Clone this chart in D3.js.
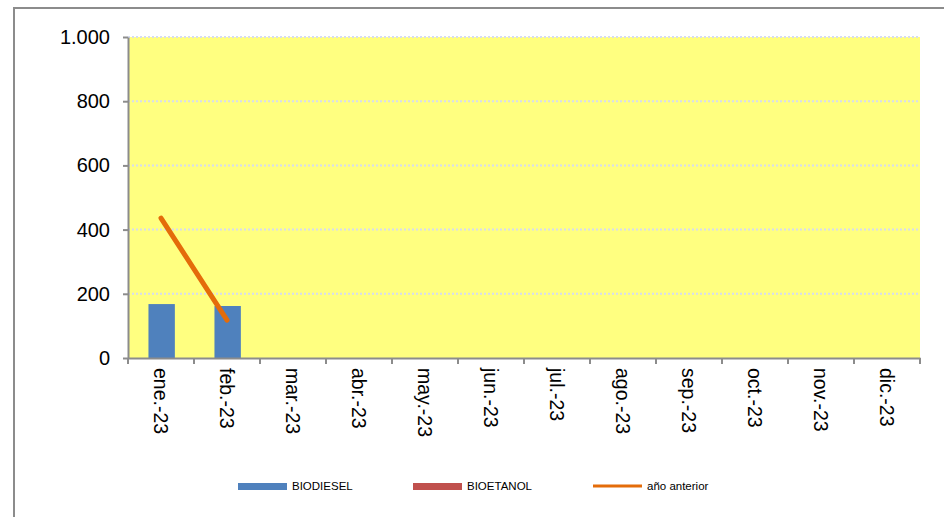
<!DOCTYPE html>
<html lang="es">
<head>
<meta charset="utf-8">
<script src="https://d3js.org/d3.v7.min.js"></script>
<style>
  body { margin: 0; background: #fff; font-family: "Liberation Sans", Arial, sans-serif; }
  .yaxis text { font-size: 20px; fill: #000; }
  .xaxis text { font-size: 19.5px; fill: #000; }
  .axis path, .axis line { stroke: #8c8c8c; stroke-width: 2; }
  .legend text { font-size: 11.5px; fill: #000; }
</style>
</head>
<body>
<div id="chart"></div>
<script>
// datos
var months = ["ene.-23","feb.-23","mar.-23","abr.-23","may.-23","jun.-23","jul.-23","ago.-23","sep.-23","oct.-23","nov.-23","dic.-23"];
var biodiesel = [168, 162, null, null, null, null, null, null, null, null, null, null];
var bioetanol = [0, 0, null, null, null, null, null, null, null, null, null, null];
var anioAnterior = [436, 118];
var yTicks = [0, 200, 400, 600, 800, 1000];

var width = 944, height = 517;
var margin = {left: 128, right: 24, top: 37, bottom: 159};

var svg = d3.select("#chart").append("svg")
  .attr("width", width)
  .attr("height", height);

// outer border
svg.append("rect")
  .attr("x", 14).attr("y", 8)
  .attr("width", 940).attr("height", 520)
  .attr("fill", "none")
  .attr("stroke", "#8c8c8c")
  .attr("stroke-width", 2);

var x = d3.scaleBand()
  .domain(months)
  .range([margin.left, width - margin.right]);

var y = d3.scaleLinear()
  .domain([0, 1000])
  .range([height - margin.bottom, margin.top]);

var fmt = function(d) { return d3.format(",")(d).replace(/,/g, "."); };

// plot background
svg.append("rect")
  .attr("x", x.range()[0]).attr("y", y(1000))
  .attr("width", x.range()[1] - x.range()[0])
  .attr("height", y(0) - y(1000))
  .attr("fill", "#ffff80");

// gridlines
svg.append("g").selectAll("line")
  .data(yTicks.filter(d => d > 0))
  .enter().append("line")
  .attr("x1", x.range()[0]).attr("x2", x.range()[1])
  .attr("y1", d => y(d)).attr("y2", d => y(d))
  .attr("stroke", "#d6dcef")
  .attr("stroke-width", 2)
  .attr("stroke-dasharray", "2,2");

// bars
svg.append("g").selectAll("rect")
  .data(months.map((m, i) => ({m: m, v: biodiesel[i]})).filter(d => d.v != null))
  .enter().append("rect")
  .attr("x", d => x(d.m) + x.bandwidth() * 0.31)
  .attr("y", d => y(d.v))
  .attr("width", x.bandwidth() * 0.4)
  .attr("height", d => y(0) - y(d.v))
  .attr("fill", "#4f81bd");

svg.append("g").selectAll("rect")
  .data(months.map((m, i) => ({m: m, v: bioetanol[i]})).filter(d => d.v))
  .enter().append("rect")
  .attr("x", d => x(d.m) + x.bandwidth() * 0.5)
  .attr("y", d => y(d.v))
  .attr("width", x.bandwidth() * 0.2)
  .attr("height", d => y(0) - y(d.v))
  .attr("fill", "#c0504d");

// line año anterior
var line = d3.line()
  .x((d, i) => x(months[i]) + x.bandwidth() / 2)
  .y(d => y(d));

svg.append("path")
  .datum(anioAnterior)
  .attr("d", line)
  .attr("fill", "none")
  .attr("stroke", "#e46c0a")
  .attr("stroke-width", 5)
  .attr("stroke-linecap", "round");

// axes
svg.append("g")
  .attr("class", "axis yaxis")
  .attr("transform", "translate(" + margin.left + ",0)")
  .call(d3.axisLeft(y).tickValues(yTicks).tickSize(5).tickSizeOuter(0).tickPadding(13).tickFormat(fmt));

var xAxis = svg.append("g")
  .attr("class", "axis xaxis")
  .attr("transform", "translate(0," + y(0) + ")")
  .call(d3.axisBottom(x).tickSize(0).tickSizeOuter(0));

xAxis.selectAll(".tick text")
  .attr("transform", "rotate(90)")
  .attr("x", 10).attr("y", 0)
  .attr("dy", "0.35em")
  .style("text-anchor", "start");

// band boundary ticks
xAxis.selectAll(".bound")
  .data(months.concat(["_end"]))
  .enter().append("line")
  .attr("class", "bound")
  .attr("x1", (d, i) => margin.left + i * x.step())
  .attr("x2", (d, i) => margin.left + i * x.step())
  .attr("y1", 0).attr("y2", 6);

// legend
var legend = svg.append("g").attr("class", "legend");
var items = [
  {name: "BIODIESEL", color: "#4f81bd", type: "bar", x: 238},
  {name: "BIOETANOL", color: "#c0504d", type: "bar", x: 413},
  {name: "año anterior", color: "#e46c0a", type: "line", x: 593}
];
items.forEach(function(it) {
  if (it.type == "bar") {
    legend.append("rect").attr("x", it.x).attr("y", 483).attr("width", 49).attr("height", 7).attr("fill", it.color);
  } else {
    legend.append("line").attr("x1", it.x).attr("x2", it.x + 49).attr("y1", 486).attr("y2", 486)
      .attr("stroke", it.color).attr("stroke-width", 3);
  }
  legend.append("text").attr("x", it.x + 54).attr("y", 490).text(it.name);
});
</script>
</body>
</html>
